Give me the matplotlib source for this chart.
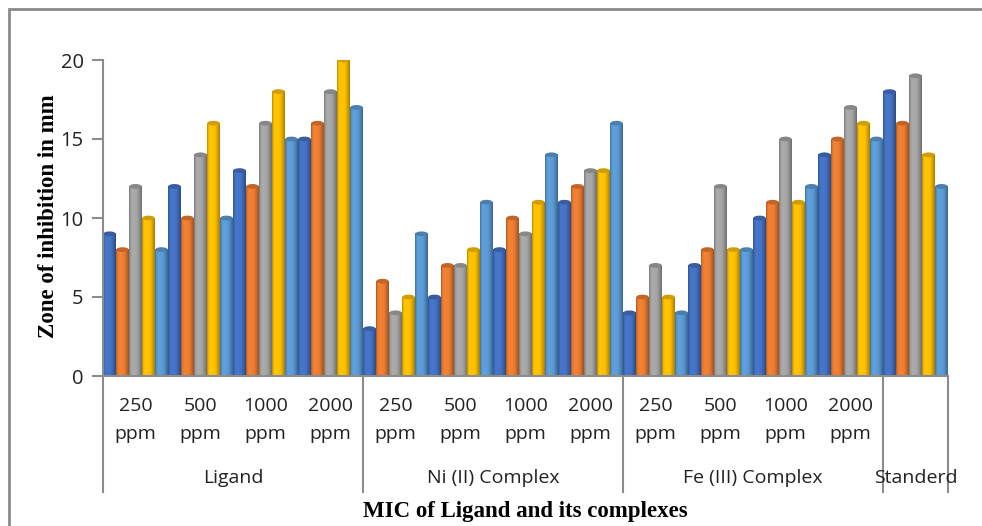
import numpy as np
import matplotlib.pyplot as plt
from matplotlib.patches import Ellipse, Rectangle
from matplotlib.colors import to_rgb
import matplotlib.transforms as mtransforms

# zone of inhibition (mm) for each of the five organisms, per sample
conc_top = ["250", "500", "1000", "2000"] * 3 + [""]
conc_bottom = ["ppm"] * 12 + [""]
group_labels = ["Ligand", "Ni (II) Complex", "Fe (III) Complex", "Standerd"]
group_sizes = [4, 4, 4, 1]

series_1 = [9, 12, 13, 15, 3, 5, 8, 11, 4, 7, 10, 14, 18]
series_2 = [8, 10, 12, 16, 6, 7, 10, 12, 5, 8, 11, 15, 16]
series_3 = [12, 14, 16, 18, 4, 7, 9, 13, 7, 12, 15, 17, 19]
series_4 = [10, 16, 18, 20, 5, 8, 11, 13, 5, 8, 11, 16, 14]
series_5 = [8, 10, 15, 17, 9, 11, 14, 16, 4, 8, 12, 15, 12]

series = [series_1, series_2, series_3, series_4, series_5]
colors = ["#4472C4", "#ED7D31", "#A5A5A5", "#FFC000", "#5B9BD5"]


def shade(color, n=40):
    # cylinder-like shading across the bar width
    base = np.array(to_rgb(color))
    t = np.linspace(0, 1, n)
    light = np.interp(t, [0, 0.12, 0.3, 0.62, 0.85, 1.0],
                      [0.72, 0.98, 1.04, 1.0, 0.82, 0.66])
    rgb = np.clip(base[None, :] * light[:, None], 0, 1)
    return rgb[None, :, :]


fig = plt.figure(figsize=(9.82, 5.26), dpi=100)
ax = fig.add_axes([103 / 982, 1 - 376 / 526, 845 / 982, 316 / 526])

x = np.arange(len(conc_top))
width = 0.2

for i, (vals, c) in enumerate(zip(series, colors)):
    bars = ax.bar(x - 0.5 + width * (i + 0.5), vals, width, color=c, linewidth=0, zorder=2)
    for b in bars:
        x0, h = b.get_x(), b.get_height()
        ax.imshow(shade(c), extent=(x0, x0 + width, 0, h), aspect="auto",
                  interpolation="bilinear", zorder=3)
        cap = np.array(to_rgb(c)) * 0.82
        ax.add_patch(Ellipse((x0 + width / 2, h), width * 0.95, 0.3,
                             facecolor=cap, edgecolor="none", zorder=4))

ax.set_xlim(-0.5, len(x) - 0.5)
ax.set_ylim(0, 20)
ax.set_yticks([0, 5, 10, 15, 20])
ax.set_xticks([])
for s in ["top", "right"]:
    ax.spines[s].set_visible(False)
for s in ["left", "bottom"]:
    ax.spines[s].set_color("#8c8c8c")
    ax.spines[s].set_linewidth(1.5)
    ax.spines[s].set_zorder(5)
ax.tick_params(axis="y", length=8, width=1.5, color="#8c8c8c", labelsize=14.5, pad=6,
               labelcolor="#222222")
for lab in ax.get_yticklabels():
    lab.set_fontfamily("Open Sans")

# two-level category axis
trans = mtransforms.blended_transform_factory(ax.transData, ax.transAxes)
for xi, top, bottom in zip(x, conc_top, conc_bottom):
    ax.text(xi, -30 / 316, top, transform=trans, ha="center", va="center",
            fontsize=14, family="Open Sans", color="#222222")
    ax.text(xi, -58 / 316, bottom, transform=trans, ha="center", va="center",
            fontsize=14, family="Open Sans", color="#222222")

edges = np.concatenate([[0], np.cumsum(group_sizes)]) - 0.5
for e in edges:
    ax.plot([e, e], [0, -116 / 316], transform=trans, color="#8c8c8c", lw=1.5,
            clip_on=False)
for k, lab in enumerate(group_labels):
    ax.text((edges[k] + edges[k + 1]) / 2, -102 / 316, lab, transform=trans,
            ha="center", va="center", fontsize=14, family="Open Sans",
            color="#222222")

fig.text(525 / 982, 1 - 511 / 526, "MIC of Ligand and its complexes",
         ha="center", va="center", fontsize=16.5, fontweight="bold",
         family="Liberation Serif")
fig.text(49 / 982, 1 - 216 / 526, "Zone of inhibition in mm", rotation=90,
         ha="center", va="center", fontsize=16.5, fontweight="bold",
         family="Liberation Serif")

# outer chart border
fig.patches.append(Rectangle((9 / 982, -0.05), 1.1, 1 - 9 / 526 + 0.05,
                             transform=fig.transFigure, fill=False,
                             edgecolor="#8a8a8a", linewidth=2))

fig.savefig("out.png", dpi=100)
